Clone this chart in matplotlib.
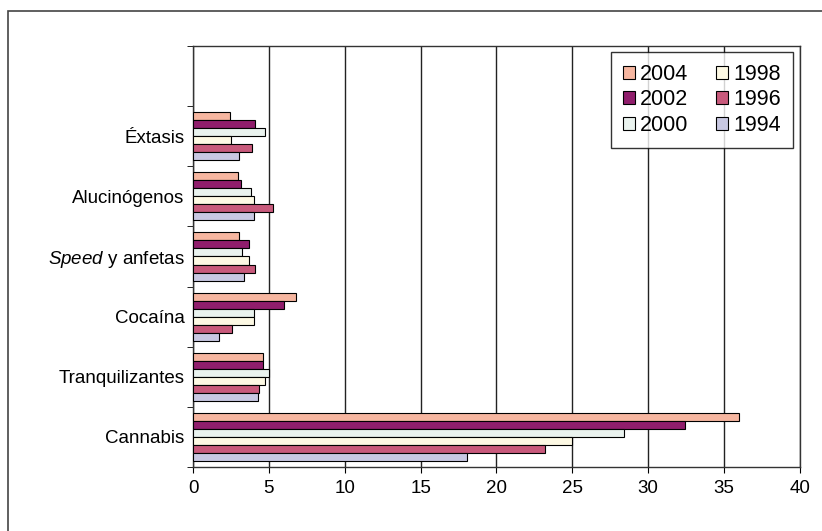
import matplotlib.pyplot as plt
import numpy as np
from matplotlib.patches import Rectangle

plt.rcParams['font.family'] = ['Liberation Sans', 'DejaVu Sans']
plt.rcParams['mathtext.fontset'] = 'custom'
plt.rcParams['mathtext.rm'] = 'Liberation Sans'
plt.rcParams['mathtext.it'] = 'Liberation Sans:italic'

# categories bottom -> top (top slot left empty as in the original)
categorias = ['Cannabis', 'Tranquilizantes', 'Cocaína',
              r'$\mathit{Speed}$ y anfetas', 'Alucinógenos', 'Éxtasis', '']
anios = ['2004', '2002', '2000', '1998', '1996', '1994']
colores = ['#F6B6A0', '#901E6C', '#EAF3EF', '#FDF9E4', '#C85A7C', '#C8C8E2']

v2004 = [36.0, 4.6, 6.8, 3.0, 2.95, 2.45]
v2002 = [32.4, 4.6, 6.0, 3.7, 3.15, 4.1]
v2000 = [28.4, 5.0, 4.0, 3.2, 3.85, 4.75]
v1998 = [25.0, 4.75, 4.0, 3.7, 4.05, 2.5]
v1996 = [23.2, 4.35, 2.6, 4.1, 5.3, 3.9]
v1994 = [18.05, 4.3, 1.7, 3.35, 4.05, 3.0]
series = [v2004, v2002, v2000, v1998, v1996, v1994]

fig = plt.figure(figsize=(8.22, 5.31), dpi=100)
# outer frame, cut off at right and bottom like the source
fig.patches.append(Rectangle((0.0095, -0.1), 1.1, 1.079, transform=fig.transFigure,
                             fill=False, edgecolor='#444444', linewidth=1.2))
ax = fig.add_axes([0.2348, 0.1205, 0.7384, 0.7929])

n = len(series)
h = 0.8 / n
y = np.arange(len(categorias) - 1)
for i, (vals, col, lab) in enumerate(zip(series, colores, anios)):
    off = 0.4 - h / 2 - i * h
    ax.barh(y + off, vals, height=h, color=col, edgecolor='black',
            linewidth=0.8, label=lab, zorder=3)

ax.set_xlim(0, 40)
ax.set_ylim(-0.5, len(categorias) - 0.5)
ax.set_xticks(range(0, 41, 5))
ax.set_yticks(range(len(categorias)))
ax.set_yticklabels(categorias)
ax.set_yticks(np.arange(-0.5, len(categorias), 1), minor=True)
ax.tick_params(axis='y', which='major', length=0, labelsize=13.5, pad=6)
ax.tick_params(axis='y', which='minor', length=4, direction='out')
ax.tick_params(axis='x', length=4, labelsize=13.5, direction='out', pad=5)
ax.xaxis.grid(True, color='#222222', linewidth=1, zorder=0)
for s in ax.spines.values():
    s.set_color('#333333')
    s.set_linewidth(1)

leg = ax.legend(ncol=2, loc='upper right', bbox_to_anchor=(0.9885, 0.985),
                borderaxespad=0, fontsize=15.5, frameon=True, fancybox=False,
                handlelength=0.55, handleheight=0.55, handletextpad=0.25,
                columnspacing=1.3, labelspacing=0.2, borderpad=0.55)
leg.get_frame().set_edgecolor('black')
leg.get_frame().set_linewidth(1)

plt.savefig('out.png', dpi=100)
